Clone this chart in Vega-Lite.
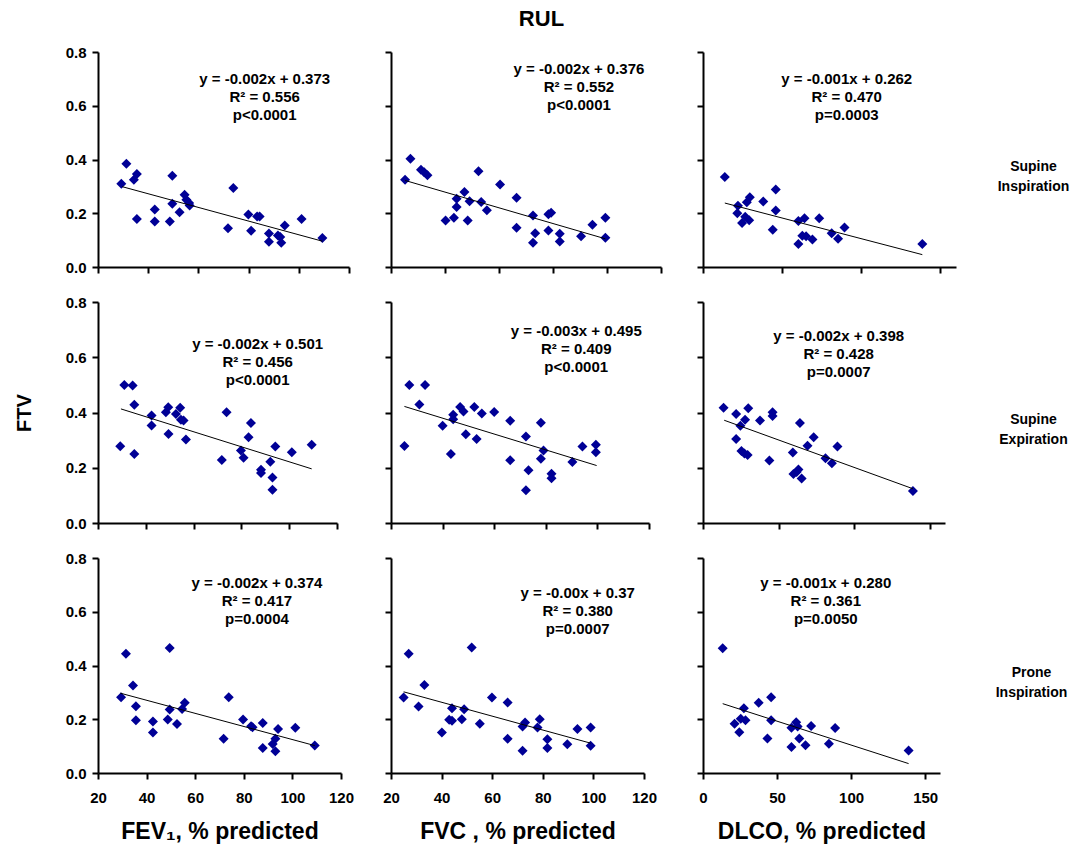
{
  "$schema": "https://vega.github.io/schema/vega-lite/v6.json",
  "padding": {"left": 14, "top": 8, "right": 10, "bottom": 8},
  "title": {"text": "RUL", "fontSize": 22, "font": "Liberation Sans", "fontWeight": "bold", "color": "black", "anchor": "middle", "offset": 14},
  "datasets": {
    "points": [
      {"panel":"R1C1","x":29.3,"ftv":0.310},{"panel":"R1C1","x":31.3,"ftv":0.384},{"panel":"R1C1","x":34.3,"ftv":0.325},{"panel":"R1C1","x":35.5,"ftv":0.346},{"panel":"R1C1","x":35.5,"ftv":0.179},{"panel":"R1C1","x":42.6,"ftv":0.214},{"panel":"R1C1","x":42.6,"ftv":0.169},{"panel":"R1C1","x":48.6,"ftv":0.169},{"panel":"R1C1","x":49.6,"ftv":0.340},{"panel":"R1C1","x":49.6,"ftv":0.235},{"panel":"R1C1","x":52.5,"ftv":0.204},{"panel":"R1C1","x":54.5,"ftv":0.269},{"panel":"R1C1","x":55.2,"ftv":0.250},{"panel":"R1C1","x":56.3,"ftv":0.238},{"panel":"R1C1","x":56.5,"ftv":0.229},{"panel":"R1C1","x":71.8,"ftv":0.144},{"panel":"R1C1","x":73.9,"ftv":0.294},{"panel":"R1C1","x":79.9,"ftv":0.195},{"panel":"R1C1","x":81.0,"ftv":0.135},{"panel":"R1C1","x":83.4,"ftv":0.188},{"panel":"R1C1","x":84.4,"ftv":0.188},{"panel":"R1C1","x":88.1,"ftv":0.125},{"panel":"R1C1","x":88.1,"ftv":0.094},{"panel":"R1C1","x":91.7,"ftv":0.117},{"panel":"R1C1","x":92.6,"ftv":0.112},{"panel":"R1C1","x":93.0,"ftv":0.090},{"panel":"R1C1","x":94.4,"ftv":0.154},{"panel":"R1C1","x":101.1,"ftv":0.179},{"panel":"R1C1","x":109.4,"ftv":0.108},
      {"panel":"R1C2","x":25.2,"ftv":0.325},{"panel":"R1C2","x":27.2,"ftv":0.403},{"panel":"R1C2","x":31.1,"ftv":0.362},{"panel":"R1C2","x":32.3,"ftv":0.353},{"panel":"R1C2","x":33.5,"ftv":0.341},{"panel":"R1C2","x":40.2,"ftv":0.173},{"panel":"R1C2","x":43.3,"ftv":0.183},{"panel":"R1C2","x":44.3,"ftv":0.223},{"panel":"R1C2","x":44.3,"ftv":0.254},{"panel":"R1C2","x":47.2,"ftv":0.279},{"panel":"R1C2","x":48.4,"ftv":0.173},{"panel":"R1C2","x":49.1,"ftv":0.245},{"panel":"R1C2","x":52.4,"ftv":0.356},{"panel":"R1C2","x":53.4,"ftv":0.242},{"panel":"R1C2","x":55.5,"ftv":0.211},{"panel":"R1C2","x":60.4,"ftv":0.307},{"panel":"R1C2","x":66.5,"ftv":0.258},{"panel":"R1C2","x":66.5,"ftv":0.146},{"panel":"R1C2","x":72.6,"ftv":0.192},{"panel":"R1C2","x":72.6,"ftv":0.090},{"panel":"R1C2","x":73.4,"ftv":0.126},{"panel":"R1C2","x":78.3,"ftv":0.196},{"panel":"R1C2","x":79.3,"ftv":0.202},{"panel":"R1C2","x":78.3,"ftv":0.136},{"panel":"R1C2","x":82.5,"ftv":0.124},{"panel":"R1C2","x":82.5,"ftv":0.095},{"panel":"R1C2","x":90.4,"ftv":0.114},{"panel":"R1C2","x":94.6,"ftv":0.157},{"panel":"R1C2","x":99.4,"ftv":0.183},{"panel":"R1C2","x":99.4,"ftv":0.109},
      {"panel":"R1C3","x":13.8,"ftv":0.335},{"panel":"R1C3","x":22.1,"ftv":0.228},{"panel":"R1C3","x":21.7,"ftv":0.200},{"panel":"R1C3","x":24.7,"ftv":0.164},{"panel":"R1C3","x":26.7,"ftv":0.187},{"panel":"R1C3","x":27.7,"ftv":0.241},{"panel":"R1C3","x":29.6,"ftv":0.260},{"panel":"R1C3","x":29.2,"ftv":0.174},{"panel":"R1C3","x":38.1,"ftv":0.244},{"panel":"R1C3","x":46.0,"ftv":0.288},{"panel":"R1C3","x":46.0,"ftv":0.210},{"panel":"R1C3","x":44.1,"ftv":0.139},{"panel":"R1C3","x":60.3,"ftv":0.171},{"panel":"R1C3","x":64.2,"ftv":0.181},{"panel":"R1C3","x":60.3,"ftv":0.086},{"panel":"R1C3","x":62.8,"ftv":0.116},{"panel":"R1C3","x":65.2,"ftv":0.114},{"panel":"R1C3","x":69.2,"ftv":0.102},{"panel":"R1C3","x":73.5,"ftv":0.181},{"panel":"R1C3","x":81.4,"ftv":0.126},{"panel":"R1C3","x":85.4,"ftv":0.105},{"panel":"R1C3","x":89.5,"ftv":0.147},{"panel":"R1C3","x":138.7,"ftv":0.086},
      {"panel":"R2C1","x":29.3,"ftv":0.278},{"panel":"R2C1","x":31.0,"ftv":0.500},{"panel":"R2C1","x":34.5,"ftv":0.498},{"panel":"R2C1","x":35.2,"ftv":0.428},{"panel":"R2C1","x":35.2,"ftv":0.250},{"panel":"R2C1","x":42.4,"ftv":0.389},{"panel":"R2C1","x":42.4,"ftv":0.353},{"panel":"R2C1","x":48.4,"ftv":0.401},{"panel":"R2C1","x":49.4,"ftv":0.419},{"panel":"R2C1","x":49.5,"ftv":0.322},{"panel":"R2C1","x":52.6,"ftv":0.395},{"panel":"R2C1","x":54.4,"ftv":0.417},{"panel":"R2C1","x":54.7,"ftv":0.374},{"panel":"R2C1","x":55.8,"ftv":0.371},{"panel":"R2C1","x":56.8,"ftv":0.302},{"panel":"R2C1","x":71.8,"ftv":0.228},{"panel":"R2C1","x":73.8,"ftv":0.401},{"panel":"R2C1","x":79.8,"ftv":0.262},{"panel":"R2C1","x":80.9,"ftv":0.236},{"panel":"R2C1","x":83.0,"ftv":0.310},{"panel":"R2C1","x":84.0,"ftv":0.362},{"panel":"R2C1","x":88.2,"ftv":0.193},{"panel":"R2C1","x":88.2,"ftv":0.181},{"panel":"R2C1","x":92.1,"ftv":0.222},{"panel":"R2C1","x":93.0,"ftv":0.165},{"panel":"R2C1","x":93.0,"ftv":0.120},{"panel":"R2C1","x":94.2,"ftv":0.277},{"panel":"R2C1","x":101.1,"ftv":0.256},{"panel":"R2C1","x":109.4,"ftv":0.283},
      {"panel":"R2C2","x":25.2,"ftv":0.279},{"panel":"R2C2","x":27.1,"ftv":0.500},{"panel":"R2C2","x":31.0,"ftv":0.429},{"panel":"R2C2","x":33.2,"ftv":0.500},{"panel":"R2C2","x":40.0,"ftv":0.352},{"panel":"R2C2","x":43.2,"ftv":0.250},{"panel":"R2C2","x":44.1,"ftv":0.392},{"panel":"R2C2","x":44.1,"ftv":0.376},{"panel":"R2C2","x":46.8,"ftv":0.420},{"panel":"R2C2","x":48.1,"ftv":0.404},{"panel":"R2C2","x":49.0,"ftv":0.321},{"panel":"R2C2","x":52.3,"ftv":0.420},{"panel":"R2C2","x":53.2,"ftv":0.304},{"panel":"R2C2","x":55.2,"ftv":0.396},{"panel":"R2C2","x":60.0,"ftv":0.402},{"panel":"R2C2","x":66.2,"ftv":0.370},{"panel":"R2C2","x":66.2,"ftv":0.227},{"panel":"R2C2","x":72.3,"ftv":0.313},{"panel":"R2C2","x":72.3,"ftv":0.119},{"panel":"R2C2","x":73.3,"ftv":0.191},{"panel":"R2C2","x":78.1,"ftv":0.363},{"panel":"R2C2","x":79.1,"ftv":0.262},{"panel":"R2C2","x":78.1,"ftv":0.233},{"panel":"R2C2","x":82.2,"ftv":0.178},{"panel":"R2C2","x":82.2,"ftv":0.162},{"panel":"R2C2","x":90.3,"ftv":0.221},{"panel":"R2C2","x":94.2,"ftv":0.277},{"panel":"R2C2","x":99.4,"ftv":0.283},{"panel":"R2C2","x":99.4,"ftv":0.256},
      {"panel":"R2C3","x":13.6,"ftv":0.417},{"panel":"R2C3","x":21.9,"ftv":0.395},{"panel":"R2C3","x":21.9,"ftv":0.304},{"panel":"R2C3","x":24.7,"ftv":0.352},{"panel":"R2C3","x":27.8,"ftv":0.374},{"panel":"R2C3","x":29.9,"ftv":0.415},{"panel":"R2C3","x":25.4,"ftv":0.261},{"panel":"R2C3","x":27.4,"ftv":0.252},{"panel":"R2C3","x":29.5,"ftv":0.246},{"panel":"R2C3","x":37.7,"ftv":0.371},{"panel":"R2C3","x":43.9,"ftv":0.226},{"panel":"R2C3","x":46.0,"ftv":0.401},{"panel":"R2C3","x":46.0,"ftv":0.387},{"panel":"R2C3","x":59.4,"ftv":0.255},{"panel":"R2C3","x":59.8,"ftv":0.177},{"panel":"R2C3","x":61.9,"ftv":0.185},{"panel":"R2C3","x":63.1,"ftv":0.194},{"panel":"R2C3","x":65.2,"ftv":0.161},{"panel":"R2C3","x":64.1,"ftv":0.362},{"panel":"R2C3","x":69.1,"ftv":0.280},{"panel":"R2C3","x":73.2,"ftv":0.310},{"panel":"R2C3","x":81.0,"ftv":0.234},{"panel":"R2C3","x":85.2,"ftv":0.216},{"panel":"R2C3","x":88.9,"ftv":0.277},{"panel":"R2C3","x":138.8,"ftv":0.116},
      {"panel":"R3C1","x":29.5,"ftv":0.282},{"panel":"R3C1","x":31.5,"ftv":0.444},{"panel":"R3C1","x":34.4,"ftv":0.326},{"panel":"R3C1","x":35.6,"ftv":0.248},{"panel":"R3C1","x":35.6,"ftv":0.196},{"panel":"R3C1","x":42.6,"ftv":0.192},{"panel":"R3C1","x":42.6,"ftv":0.151},{"panel":"R3C1","x":48.7,"ftv":0.199},{"panel":"R3C1","x":49.5,"ftv":0.465},{"panel":"R3C1","x":49.5,"ftv":0.236},{"panel":"R3C1","x":52.5,"ftv":0.182},{"panel":"R3C1","x":54.6,"ftv":0.238},{"panel":"R3C1","x":55.7,"ftv":0.261},{"panel":"R3C1","x":71.7,"ftv":0.127},{"panel":"R3C1","x":73.8,"ftv":0.282},{"panel":"R3C1","x":79.7,"ftv":0.199},{"panel":"R3C1","x":83.0,"ftv":0.174},{"panel":"R3C1","x":83.6,"ftv":0.170},{"panel":"R3C1","x":87.8,"ftv":0.186},{"panel":"R3C1","x":87.8,"ftv":0.093},{"panel":"R3C1","x":91.9,"ftv":0.108},{"panel":"R3C1","x":93.0,"ftv":0.127},{"panel":"R3C1","x":93.0,"ftv":0.081},{"panel":"R3C1","x":94.1,"ftv":0.164},{"panel":"R3C1","x":101.2,"ftv":0.168},{"panel":"R3C1","x":109.2,"ftv":0.102},
      {"panel":"R3C2","x":25.0,"ftv":0.281},{"panel":"R3C2","x":27.0,"ftv":0.444},{"panel":"R3C2","x":30.9,"ftv":0.247},{"panel":"R3C2","x":33.2,"ftv":0.327},{"panel":"R3C2","x":40.1,"ftv":0.151},{"panel":"R3C2","x":43.0,"ftv":0.198},{"panel":"R3C2","x":44.1,"ftv":0.194},{"panel":"R3C2","x":44.1,"ftv":0.241},{"panel":"R3C2","x":48.0,"ftv":0.200},{"panel":"R3C2","x":48.9,"ftv":0.237},{"panel":"R3C2","x":51.9,"ftv":0.467},{"panel":"R3C2","x":55.1,"ftv":0.183},{"panel":"R3C2","x":59.9,"ftv":0.281},{"panel":"R3C2","x":66.1,"ftv":0.262},{"panel":"R3C2","x":66.1,"ftv":0.127},{"panel":"R3C2","x":72.0,"ftv":0.173},{"panel":"R3C2","x":73.0,"ftv":0.188},{"panel":"R3C2","x":72.0,"ftv":0.083},{"panel":"R3C2","x":77.9,"ftv":0.169},{"panel":"R3C2","x":78.8,"ftv":0.200},{"panel":"R3C2","x":81.8,"ftv":0.126},{"panel":"R3C2","x":81.8,"ftv":0.093},{"panel":"R3C2","x":89.7,"ftv":0.107},{"panel":"R3C2","x":93.7,"ftv":0.164},{"panel":"R3C2","x":98.9,"ftv":0.169},{"panel":"R3C2","x":98.9,"ftv":0.101},
      {"panel":"R3C3","x":13.3,"ftv":0.464},{"panel":"R3C3","x":21.3,"ftv":0.183},{"panel":"R3C3","x":24.5,"ftv":0.152},{"panel":"R3C3","x":25.5,"ftv":0.202},{"panel":"R3C3","x":27.6,"ftv":0.241},{"panel":"R3C3","x":28.7,"ftv":0.196},{"panel":"R3C3","x":37.6,"ftv":0.261},{"panel":"R3C3","x":43.5,"ftv":0.128},{"panel":"R3C3","x":46.0,"ftv":0.282},{"panel":"R3C3","x":46.0,"ftv":0.196},{"panel":"R3C3","x":59.7,"ftv":0.168},{"panel":"R3C3","x":59.7,"ftv":0.097},{"panel":"R3C3","x":62.9,"ftv":0.189},{"panel":"R3C3","x":63.9,"ftv":0.173},{"panel":"R3C3","x":65.0,"ftv":0.128},{"panel":"R3C3","x":69.2,"ftv":0.103},{"panel":"R3C3","x":73.0,"ftv":0.175},{"panel":"R3C3","x":85.0,"ftv":0.109},{"panel":"R3C3","x":89.2,"ftv":0.167},{"panel":"R3C3","x":138.8,"ftv":0.084}
    ],
    "fits": [
      {"panel":"R1C1","x1":29.6,"y1":0.299,"x2":109.4,"y2":0.096},
      {"panel":"R1C2","x1":25.2,"y1":0.322,"x2":99.4,"y2":0.105},
      {"panel":"R1C3","x1":13.8,"y1":0.238,"x2":138.7,"y2":0.046},
      {"panel":"R2C1","x1":29.6,"y1":0.413,"x2":109.4,"y2":0.196},
      {"panel":"R2C2","x1":25.2,"y1":0.422,"x2":99.7,"y2":0.208},
      {"panel":"R2C3","x1":14.0,"y1":0.372,"x2":138.8,"y2":0.124},
      {"panel":"R3C1","x1":29.2,"y1":0.297,"x2":109.2,"y2":0.102},
      {"panel":"R3C2","x1":25.0,"y1":0.302,"x2":98.9,"y2":0.111},
      {"panel":"R3C3","x1":13.3,"y1":0.258,"x2":138.8,"y2":0.035}
    ],
    "notes": [
      {"panel":"R1C1","x":86.4,"y":0.699,"label":"y = -0.002x  + 0.373\nR² = 0.556\np<0.0001"},
      {"panel":"R1C2","x":89.6,"y":0.737,"label":"y = -0.002x  + 0.376\nR² = 0.552\np<0.0001"},
      {"panel":"R1C3","x":90.9,"y":0.699,"label":"y = -0.001x  + 0.262\nR² = 0.470\np=0.0003"},
      {"panel":"R2C1","x":86.8,"y":0.647,"label":"y = -0.002x  + 0.501\nR² = 0.456\np<0.0001"},
      {"panel":"R2C2","x":91.8,"y":0.694,"label":"y = -0.003x  + 0.495\nR² = 0.409\np<0.0001"},
      {"panel":"R2C3","x":89.7,"y":0.676,"label":"y = -0.002x  + 0.398\nR² = 0.428\np=0.0007"},
      {"panel":"R3C1","x":85.4,"y":0.706,"label":"y = -0.002x  + 0.374\nR² = 0.417\np=0.0004"},
      {"panel":"R3C2","x":93.8,"y":0.669,"label":"y = -0.00x + 0.37\nR² = 0.380\np=0.0007"},
      {"panel":"R3C3","x":82.9,"y":0.706,"label":"y = -0.001x  + 0.280\nR² = 0.361\np=0.0050"}
    ]
  },
  "concat": [
    {"width": 251, "height": 215, "layer": [
      {"data": {"name": "points"}, "transform": [{"filter": "datum.panel === 'R1C1'"}], "mark": {"type": "point", "shape": "diamond", "filled": true, "size": 100, "color": "#000096", "opacity": 1},
       "encoding": {"x": {"field": "x", "type": "quantitative", "scale": {"domain": [20, 120]}, "axis": {"values": [20,40,60,80,100,120], "labels": false, "title": null}},
                    "y": {"field": "ftv", "type": "quantitative", "scale": {"domain": [0, 0.8]}, "axis": {"values": [0,0.2,0.4,0.6,0.8], "format": ".1f", "title": null}}}},
      {"data": {"name": "fits"}, "transform": [{"filter": "datum.panel === 'R1C1'"}], "mark": {"type": "rule", "color": "black", "strokeWidth": 1},
       "encoding": {"x": {"field": "x1", "type": "quantitative", "title": null}, "y": {"field": "y1", "type": "quantitative", "title": null}, "x2": {"field": "x2"}, "y2": {"field": "y2"}}},
      {"data": {"name": "notes"}, "transform": [{"filter": "datum.panel === 'R1C1'"}], "mark": {"type": "text", "font": "Liberation Sans", "fontSize": 15, "fontWeight": "bold", "lineBreak": "\n", "lineHeight": 18, "align": "center", "baseline": "middle", "color": "black"},
       "encoding": {"x": {"field": "x", "type": "quantitative", "title": null}, "y": {"field": "y", "type": "quantitative", "title": null}, "text": {"field": "label"}}}
    ]},
    {"width": 270, "height": 215, "layer": [
      {"data": {"name": "points"}, "transform": [{"filter": "datum.panel === 'R1C2'"}], "mark": {"type": "point", "shape": "diamond", "filled": true, "size": 100, "color": "#000096", "opacity": 1},
       "encoding": {"x": {"field": "x", "type": "quantitative", "scale": {"domain": [20, 120]}, "axis": {"values": [20,40,60,80,100,120], "labels": false, "title": null}},
                    "y": {"field": "ftv", "type": "quantitative", "scale": {"domain": [0, 0.8]}, "axis": {"values": [0,0.2,0.4,0.6,0.8], "labels": false, "title": null}}}},
      {"data": {"name": "fits"}, "transform": [{"filter": "datum.panel === 'R1C2'"}], "mark": {"type": "rule", "color": "black", "strokeWidth": 1},
       "encoding": {"x": {"field": "x1", "type": "quantitative", "title": null}, "y": {"field": "y1", "type": "quantitative", "title": null}, "x2": {"field": "x2"}, "y2": {"field": "y2"}}},
      {"data": {"name": "notes"}, "transform": [{"filter": "datum.panel === 'R1C2'"}], "mark": {"type": "text", "font": "Liberation Sans", "fontSize": 15, "fontWeight": "bold", "lineBreak": "\n", "lineHeight": 18, "align": "center", "baseline": "middle", "color": "black"},
       "encoding": {"x": {"field": "x", "type": "quantitative", "title": null}, "y": {"field": "y", "type": "quantitative", "title": null}, "text": {"field": "label"}}}
    ]},
    {"width": 253, "height": 215, "resolve": {"axis": {"y": "independent"}}, "layer": [
      {"data": {"name": "points"}, "transform": [{"filter": "datum.panel === 'R1C3'"}], "mark": {"type": "point", "shape": "diamond", "filled": true, "size": 100, "color": "#000096", "opacity": 1},
       "encoding": {"x": {"field": "x", "type": "quantitative", "scale": {"domain": [0, 150]}, "axis": {"values": [0,50,100,150], "labels": false, "title": null}},
                    "y": {"field": "ftv", "type": "quantitative", "scale": {"domain": [0, 0.8]}, "axis": {"values": [0,0.2,0.4,0.6,0.8], "labels": false, "title": null}}}},
      {"data": {"name": "fits"}, "transform": [{"filter": "datum.panel === 'R1C3'"}], "mark": {"type": "rule", "color": "black", "strokeWidth": 1},
       "encoding": {"x": {"field": "x1", "type": "quantitative", "title": null}, "y": {"field": "y1", "type": "quantitative", "axis": null}, "x2": {"field": "x2"}, "y2": {"field": "y2"}}},
      {"data": {"name": "notes"}, "transform": [{"filter": "datum.panel === 'R1C3'"}], "mark": {"type": "text", "font": "Liberation Sans", "fontSize": 15, "fontWeight": "bold", "lineBreak": "\n", "lineHeight": 18, "align": "center", "baseline": "middle", "color": "black"},
       "encoding": {"x": {"field": "x", "type": "quantitative", "title": null}, "y": {"field": "y", "type": "quantitative", "axis": {"orient": "right", "domain": false, "ticks": false, "labels": false, "title": ["Supine", "Inspiration"], "titleAngle": 0, "titleAlign": "center", "titleBaseline": "top", "titlePadding": 57, "titleFontSize": 14, "titleLineHeight": 20}}, "text": {"field": "label"}}}
    ]},
    {"width": 239, "height": 221, "layer": [
      {"data": {"name": "points"}, "transform": [{"filter": "datum.panel === 'R2C1'"}], "mark": {"type": "point", "shape": "diamond", "filled": true, "size": 100, "color": "#000096", "opacity": 1},
       "encoding": {"x": {"field": "x", "type": "quantitative", "scale": {"domain": [20, 120]}, "axis": {"values": [20,40,60,80,100,120], "labels": false, "title": null}},
                    "y": {"field": "ftv", "type": "quantitative", "scale": {"domain": [0, 0.8]}, "title": "FTV", "axis": {"values": [0,0.2,0.4,0.6,0.8], "format": ".1f", "title": "FTV", "titleFontSize": 20, "titlePadding": 31}}}},
      {"data": {"name": "fits"}, "transform": [{"filter": "datum.panel === 'R2C1'"}], "mark": {"type": "rule", "color": "black", "strokeWidth": 1},
       "encoding": {"x": {"field": "x1", "type": "quantitative", "title": null}, "y": {"field": "y1", "type": "quantitative", "title": "FTV"}, "x2": {"field": "x2"}, "y2": {"field": "y2"}}},
      {"data": {"name": "notes"}, "transform": [{"filter": "datum.panel === 'R2C1'"}], "mark": {"type": "text", "font": "Liberation Sans", "fontSize": 15, "fontWeight": "bold", "lineBreak": "\n", "lineHeight": 18, "align": "center", "baseline": "middle", "color": "black"},
       "encoding": {"x": {"field": "x", "type": "quantitative", "title": null}, "y": {"field": "y", "type": "quantitative", "title": "FTV"}, "text": {"field": "label"}}}
    ]},
    {"width": 258, "height": 221, "layer": [
      {"data": {"name": "points"}, "transform": [{"filter": "datum.panel === 'R2C2'"}], "mark": {"type": "point", "shape": "diamond", "filled": true, "size": 100, "color": "#000096", "opacity": 1},
       "encoding": {"x": {"field": "x", "type": "quantitative", "scale": {"domain": [20, 120]}, "axis": {"values": [20,40,60,80,100,120], "labels": false, "title": null}},
                    "y": {"field": "ftv", "type": "quantitative", "scale": {"domain": [0, 0.8]}, "axis": {"values": [0,0.2,0.4,0.6,0.8], "labels": false, "title": null}}}},
      {"data": {"name": "fits"}, "transform": [{"filter": "datum.panel === 'R2C2'"}], "mark": {"type": "rule", "color": "black", "strokeWidth": 1},
       "encoding": {"x": {"field": "x1", "type": "quantitative", "title": null}, "y": {"field": "y1", "type": "quantitative", "title": null}, "x2": {"field": "x2"}, "y2": {"field": "y2"}}},
      {"data": {"name": "notes"}, "transform": [{"filter": "datum.panel === 'R2C2'"}], "mark": {"type": "text", "font": "Liberation Sans", "fontSize": 15, "fontWeight": "bold", "lineBreak": "\n", "lineHeight": 18, "align": "center", "baseline": "middle", "color": "black"},
       "encoding": {"x": {"field": "x", "type": "quantitative", "title": null}, "y": {"field": "y", "type": "quantitative", "title": null}, "text": {"field": "label"}}}
    ]},
    {"width": 242, "height": 221, "resolve": {"axis": {"y": "independent"}}, "layer": [
      {"data": {"name": "points"}, "transform": [{"filter": "datum.panel === 'R2C3'"}], "mark": {"type": "point", "shape": "diamond", "filled": true, "size": 100, "color": "#000096", "opacity": 1},
       "encoding": {"x": {"field": "x", "type": "quantitative", "scale": {"domain": [0, 150]}, "axis": {"values": [0,50,100,150], "labels": false, "title": null}},
                    "y": {"field": "ftv", "type": "quantitative", "scale": {"domain": [0, 0.8]}, "axis": {"values": [0,0.2,0.4,0.6,0.8], "labels": false, "title": null}}}},
      {"data": {"name": "fits"}, "transform": [{"filter": "datum.panel === 'R2C3'"}], "mark": {"type": "rule", "color": "black", "strokeWidth": 1},
       "encoding": {"x": {"field": "x1", "type": "quantitative", "title": null}, "y": {"field": "y1", "type": "quantitative", "axis": null}, "x2": {"field": "x2"}, "y2": {"field": "y2"}}},
      {"data": {"name": "notes"}, "transform": [{"filter": "datum.panel === 'R2C3'"}], "mark": {"type": "text", "font": "Liberation Sans", "fontSize": 15, "fontWeight": "bold", "lineBreak": "\n", "lineHeight": 18, "align": "center", "baseline": "middle", "color": "black"},
       "encoding": {"x": {"field": "x", "type": "quantitative", "title": null}, "y": {"field": "y", "type": "quantitative", "axis": {"orient": "right", "domain": false, "ticks": false, "labels": false, "title": ["Supine", "Expiration"], "titleAngle": 0, "titleAlign": "center", "titleBaseline": "top", "titlePadding": 68, "titleFontSize": 14, "titleLineHeight": 20}}, "text": {"field": "label"}}}
    ]},
    {"width": 243, "height": 215, "layer": [
      {"data": {"name": "points"}, "transform": [{"filter": "datum.panel === 'R3C1'"}], "mark": {"type": "point", "shape": "diamond", "filled": true, "size": 100, "color": "#000096", "opacity": 1},
       "encoding": {"x": {"field": "x", "type": "quantitative", "scale": {"domain": [20, 120]}, "title": "FEV₁, % predicted", "axis": {"values": [20,40,60,80,100,120], "title": "FEV₁, % predicted"}},
                    "y": {"field": "ftv", "type": "quantitative", "scale": {"domain": [0, 0.8]}, "axis": {"values": [0,0.2,0.4,0.6,0.8], "format": ".1f", "title": null}}}},
      {"data": {"name": "fits"}, "transform": [{"filter": "datum.panel === 'R3C1'"}], "mark": {"type": "rule", "color": "black", "strokeWidth": 1},
       "encoding": {"x": {"field": "x1", "type": "quantitative", "title": "FEV₁, % predicted"}, "y": {"field": "y1", "type": "quantitative", "title": null}, "x2": {"field": "x2"}, "y2": {"field": "y2"}}},
      {"data": {"name": "notes"}, "transform": [{"filter": "datum.panel === 'R3C1'"}], "mark": {"type": "text", "font": "Liberation Sans", "fontSize": 15, "fontWeight": "bold", "lineBreak": "\n", "lineHeight": 18, "align": "center", "baseline": "middle", "color": "black"},
       "encoding": {"x": {"field": "x", "type": "quantitative", "title": "FEV₁, % predicted"}, "y": {"field": "y", "type": "quantitative", "title": null}, "text": {"field": "label"}}}
    ]},
    {"width": 253, "height": 215, "layer": [
      {"data": {"name": "points"}, "transform": [{"filter": "datum.panel === 'R3C2'"}], "mark": {"type": "point", "shape": "diamond", "filled": true, "size": 100, "color": "#000096", "opacity": 1},
       "encoding": {"x": {"field": "x", "type": "quantitative", "scale": {"domain": [20, 120]}, "title": "FVC , % predicted", "axis": {"values": [20,40,60,80,100,120], "title": "FVC , % predicted"}},
                    "y": {"field": "ftv", "type": "quantitative", "scale": {"domain": [0, 0.8]}, "axis": {"values": [0,0.2,0.4,0.6,0.8], "labels": false, "title": null}}}},
      {"data": {"name": "fits"}, "transform": [{"filter": "datum.panel === 'R3C2'"}], "mark": {"type": "rule", "color": "black", "strokeWidth": 1},
       "encoding": {"x": {"field": "x1", "type": "quantitative", "title": "FVC , % predicted"}, "y": {"field": "y1", "type": "quantitative", "title": null}, "x2": {"field": "x2"}, "y2": {"field": "y2"}}},
      {"data": {"name": "notes"}, "transform": [{"filter": "datum.panel === 'R3C2'"}], "mark": {"type": "text", "font": "Liberation Sans", "fontSize": 15, "fontWeight": "bold", "lineBreak": "\n", "lineHeight": 18, "align": "center", "baseline": "middle", "color": "black"},
       "encoding": {"x": {"field": "x", "type": "quantitative", "title": "FVC , % predicted"}, "y": {"field": "y", "type": "quantitative", "title": null}, "text": {"field": "label"}}}
    ]},
    {"width": 237, "height": 215, "resolve": {"axis": {"y": "independent"}}, "layer": [
      {"data": {"name": "points"}, "transform": [{"filter": "datum.panel === 'R3C3'"}], "mark": {"type": "point", "shape": "diamond", "filled": true, "size": 100, "color": "#000096", "opacity": 1},
       "encoding": {"x": {"field": "x", "type": "quantitative", "scale": {"domain": [0, 150]}, "title": "DLCO, % predicted", "axis": {"values": [0,50,100,150], "title": "DLCO, % predicted"}},
                    "y": {"field": "ftv", "type": "quantitative", "scale": {"domain": [0, 0.8]}, "axis": {"values": [0,0.2,0.4,0.6,0.8], "labels": false, "title": null}}}},
      {"data": {"name": "fits"}, "transform": [{"filter": "datum.panel === 'R3C3'"}], "mark": {"type": "rule", "color": "black", "strokeWidth": 1},
       "encoding": {"x": {"field": "x1", "type": "quantitative", "title": "DLCO, % predicted"}, "y": {"field": "y1", "type": "quantitative", "axis": null}, "x2": {"field": "x2"}, "y2": {"field": "y2"}}},
      {"data": {"name": "notes"}, "transform": [{"filter": "datum.panel === 'R3C3'"}], "mark": {"type": "text", "font": "Liberation Sans", "fontSize": 15, "fontWeight": "bold", "lineBreak": "\n", "lineHeight": 18, "align": "center", "baseline": "middle", "color": "black"},
       "encoding": {"x": {"field": "x", "type": "quantitative", "title": "DLCO, % predicted"}, "y": {"field": "y", "type": "quantitative", "axis": {"orient": "right", "domain": false, "ticks": false, "labels": false, "title": ["Prone", "Inspiration"], "titleAngle": 0, "titleAlign": "center", "titleBaseline": "top", "titlePadding": 71, "titleFontSize": 14, "titleLineHeight": 20}}, "text": {"field": "label"}}}
    ]}
  ],
  "columns": 3,
  "spacing": {"row": 35, "column": 42},
  "bounds": "flush",
  "config": {
    "font": "Liberation Sans",
    "view": {"stroke": null},
    "axis": {"grid": false, "domainColor": "black", "domainWidth": 2, "tickColor": "black", "tickWidth": 2, "tickSize": 6, "labelFont": "Liberation Sans", "labelFontWeight": "bold", "labelFontSize": 15, "labelColor": "black", "labelFlush": false, "labelOverlap": false, "titleFont": "Liberation Sans", "titleFontWeight": "bold", "titleColor": "black"},
    "axisX": {"labelPadding": 11, "titleFontSize": 23, "titlePadding": 15},
    "axisY": {"labelPadding": 6}
  }
}
